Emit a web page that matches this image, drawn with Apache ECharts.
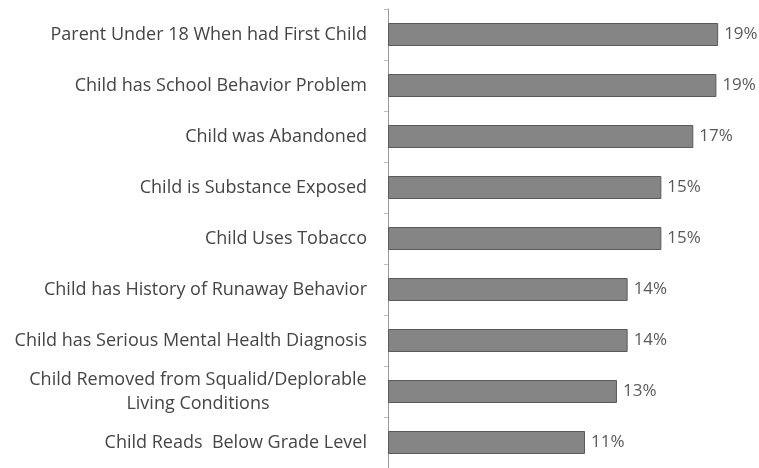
<!DOCTYPE html>
<html>
<head>
<meta charset="utf-8">
<script src="https://cdn.jsdelivr.net/npm/echarts@6/dist/echarts.min.js"></script>
<style>
  html, body { margin: 0; padding: 0; background: #fff; }
  #main { width: 759px; height: 468px; }
</style>
</head>
<body>
<div id="main"></div>
<script>
var categories = [
    'Parent Under 18 When had First Child',
    'Child has School Behavior Problem',
    'Child was Abandoned',
    'Child is Substance Exposed',
    'Child Uses Tobacco',
    'Child has History of Runaway Behavior',
    'Child has Serious Mental Health Diagnosis',
    'Child Removed from Squalid/Deplorable\nLiving Conditions',
    'Child Reads  Below Grade Level'
];
// labels show rounded percent
var values = [18.6, 18.5, 17.2, 15.4, 15.4, 13.5, 13.5, 12.9, 11.1];

var labelFont = '18px "Open Sans"';

// width of a line of label text, so the two line label can be centred under itself
function textWidth(s) {
    var ctx = document.createElement('canvas').getContext('2d');
    ctx.font = labelFont;
    return Math.ceil(ctx.measureText(s).width);
}

var chart = echarts.init(document.getElementById('main'));

chart.setOption({
    animation: false,
    backgroundColor: '#fff',
    grid: { left: 388, top: 9, width: 355, height: 467, containLabel: false },
    xAxis: {
        type: 'value',
        min: 0,
        max: 20,
        show: false
    },
    yAxis: {
        type: 'category',
        data: categories,
        inverse: true,
        axisLine: { show: true, lineStyle: { color: '#9a9a9a', width: 1 } },
        axisTick: { show: true, length: 4, lineStyle: { color: '#bdbdbd' } },
        axisLabel: {
            margin: 21,
            color: '#454545',
            fontFamily: 'Open Sans',
            fontSize: 18,
            lineHeight: 23,
            formatter: function(v) {
                if (v.indexOf('\n') >= 0) {
                    var parts = v.split('\n');
                    return '{c|' + parts[0] + '}\n{c|' + parts[1] + '}';
                }
                return v;
            },
            rich: {
                c: { width: textWidth('Child Removed from Squalid/Deplorable'), align: 'center', color: '#454545', fontFamily: 'Open Sans', fontSize: 18, lineHeight: 24 }
            }
        }
    },
    series: [{
        type: 'bar',
        data: values,
        barWidth: 23,
        itemStyle: { color: '#858585', borderColor: '#5a5a5a', borderWidth: 1 },
        label: {
            show: true,
            position: 'right',
            distance: 6,
            color: '#5a5a5a',
            fontFamily: 'Open Sans',
            fontSize: 17,
            formatter: function(p) { return Math.round(p.value) + '%'; }
        }
    }]
});
</script>
</body>
</html>
